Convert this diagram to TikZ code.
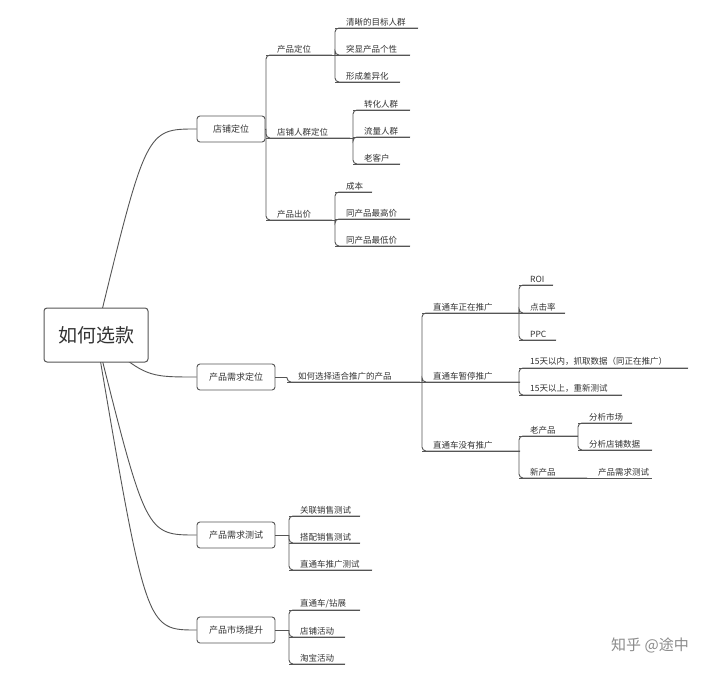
\documentclass[tikz,border=0pt]{standalone}
\usepackage{fontspec}
\setmainfont{Noto Sans CJK SC}
\usetikzlibrary{calc}
\definecolor{linegray}{HTML}{555555}
\definecolor{textgray}{HTML}{333333}
\tikzset{
  ln/.style={draw=linegray, line width=0.9pt},
  lbl/.style={text=textgray, font=\fontsize{8.5}{10}\selectfont, inner sep=2pt},
  topbox/.style={draw=linegray, line width=0.9pt, rounded corners=3pt, fill=white,
    text=textgray, font=\fontsize{9}{11}\selectfont},
}
% underlined label: name, x1, x2, y, text
\newcommand\leaf[5]{%
  \coordinate (#1-s) at (#2,#4);
  \coordinate (#1-e) at (#3,#4);
  \draw[ln] (#1-s) -- (#1-e);
  \node[lbl, anchor=south west, xshift=9pt] (#1) at (#1-s) {#5};}
% elbow from parent end point to child start
\newcommand\link[2]{%
  \draw[ln] (#1) -- (#2-s |- #1);
  \draw[ln, rounded corners=4pt] (#2-s |- #1) |- (#2-e);}
\begin{document}
\begin{tikzpicture}[x=1pt,y=-1pt]
\useasboundingbox[fill=white] (0,0) rectangle (720,674);

% main branches, then the root on top
\node[topbox, minimum width=68pt, minimum height=26pt] (shop) at (231,129) {店铺定位};
\node[topbox, minimum width=78pt, minimum height=26pt] (need) at (236,377) {产品需求定位};
\node[topbox, minimum width=78pt, minimum height=26pt] (test) at (236,535) {产品需求测试};
\node[topbox, minimum width=78pt, minimum height=26pt] (mkt) at (236,630) {产品市场提升};
\coordinate (rc) at (96,335);
\foreach \b in {shop, need, test, mkt}
  {\draw[ln] (rc) .. controls ($(rc |- \b.west)+(50,0)$) .. (\b.west);}
\node[draw=linegray, line width=1pt, rounded corners=3pt, fill=white, text=textgray,
  minimum width=104pt, minimum height=54pt, font=\fontsize{19}{22}\selectfont] (root) at (rc) {如何选款};

% 店铺定位
\coordinate (shop-o) at (shop.east);
\leaf{pos}{266}{332}{55}{产品定位}
\leaf{crowd}{266}{350}{138}{店铺人群定位}
\leaf{price}{266}{332}{220}{产品出价}
\foreach \c in {pos, crowd, price} {\link{shop-o}{\c}}
\leaf{pa}{335}{418}{28}{清晰的目标人群}
\leaf{pb}{335}{410}{55}{突显产品个性}
\leaf{pc}{335}{400}{82}{形成差异化}
\foreach \c in {pa, pb, pc} {\link{pos-e}{\c}}
\leaf{ca}{353}{410}{110}{转化人群}
\leaf{cb}{353}{410}{137}{流量人群}
\leaf{cc}{353}{400}{164}{老客户}
\foreach \c in {ca, cb, cc} {\link{crowd-e}{\c}}
\leaf{ra}{335}{372}{192}{成本}
\leaf{rb}{335}{410}{219}{同产品最高价}
\leaf{rc}{335}{410}{246}{同产品最低价}
\foreach \c in {ra, rb, rc} {\link{price-e}{\c}}

% 产品需求定位
\coordinate (need-o) at (need.east);
\leaf{how}{287}{420}{382}{如何选择适合推广的产品}
\link{need-o}{how}
\leaf{run}{422}{520}{313}{直通车正在推广}
\leaf{stop}{422}{520}{382}{直通车暂停推广}
\leaf{none}{422}{520}{451}{直通车没有推广}
\foreach \c in {run, stop, none} {\link{how-e}{\c}}
\leaf{roi}{519}{553}{285}{ROI}
\leaf{ctr}{519}{565}{313}{点击率}
\leaf{ppc}{519}{556}{340}{PPC}
\foreach \c in {roi, ctr, ppc} {\link{run-e}{\c}}
\leaf{in15}{519}{688}{368}{15天以内，抓取数据（同正在推广）}
\leaf{out15}{519}{622}{395}{15天以上，重新测试}
\foreach \c in {in15, out15} {\link{stop-e}{\c}}
\leaf{old}{519}{578}{436}{老产品}
\leaf{new}{519}{587}{478}{新产品}
\foreach \c in {old, new} {\link{none-e}{\c}}
\leaf{oa}{578}{632}{423}{分析市场}
\leaf{ob}{578}{652}{450}{分析店铺数据}
\foreach \c in {oa, ob} {\link{old-e}{\c}}
\leaf{na}{587}{652}{478}{产品需求测试}

% 产品需求测试
\coordinate (test-o) at (test.east);
\leaf{ta}{289}{360}{516}{关联销售测试}
\leaf{tb}{289}{360}{543}{搭配销售测试}
\leaf{tc}{289}{372}{570}{直通车推广测试}
\foreach \c in {ta, tb, tc} {\link{test-o}{\c}}

% 产品市场提升
\coordinate (mkt-o) at (mkt.east);
\leaf{ma}{289}{360}{610}{直通车/钻展}
\leaf{mb}{289}{345}{637}{店铺活动}
\leaf{mc}{289}{345}{664}{淘宝活动}
\foreach \c in {ma, mb, mc} {\link{mkt-o}{\c}}

\node[text=black!45, font=\fontsize{15}{18}\selectfont] (mark) at (650,645) {知乎 @途中};
\end{tikzpicture}
\end{document}
